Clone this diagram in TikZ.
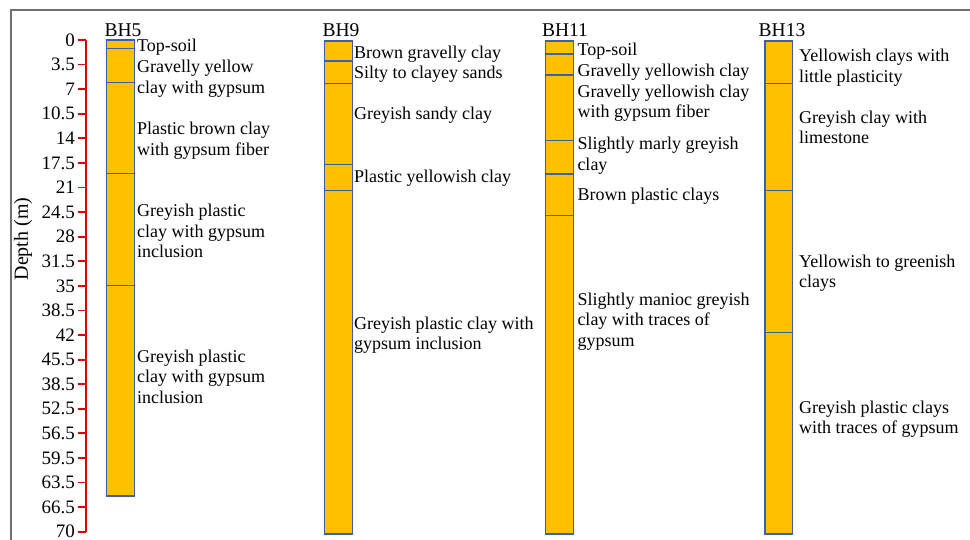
\documentclass[tikz,border=0pt]{standalone}
\usepackage{fontspec}
\setmainfont{Liberation Serif}
\usepackage{tikz}
\usetikzlibrary{positioning}
\definecolor{gold}{RGB}{255,192,0}
\definecolor{edge}{RGB}{59,96,168}
\definecolor{axisred}{RGB}{222,0,0}
\definecolor{framegray}{RGB}{112,112,112}

\begin{document}
\begin{tikzpicture}[x=1pt, y=-1pt,
    layer/.style={draw=edge, fill=gold, line width=1.3pt},
    cut/.style={draw=edge, line width=1.3pt},
    soil/.style={anchor=base west, align=left, inner sep=0pt, font=\fontsize{18}{20.5}\selectfont},
    hole/.style={anchor=base, inner sep=0pt, font=\fontsize{19.5}{22}\selectfont},
    depthlabel/.style={anchor=east, inner sep=0pt, font=\fontsize{19}{22}\selectfont},
    redline/.style={draw=axisred, line width=1.8pt}]
  \useasboundingbox (0,0) rectangle (970,540);
  \draw[framegray, line width=1.5pt] (11,540) -- (11,10) -- (970,10);

  \coordinate (top) at (85.7,40);
  \coordinate (bot) at (85.7,531.7);
  \draw[redline] (top) -- (bot);
  \foreach \d [count=\i from 0] in {0,3.5,7,10.5,14,17.5,21,24.5,28,31.5,35,38.5,42,45.5,38.5,52.5,56.5,59.5,63.5,66.5,70} {
    \pgfmathsetmacro\ty{40+\i*24.585}
    \coordinate (k\i) at (85.7,\ty);
    \draw[redline] (k\i) -- ++(-8,0);
    \node[depthlabel] (t\i) at (75,\ty) {\d};
  }
  \node[anchor=center, rotate=90, font=\fontsize{20}{22}\selectfont] (depth) at (23,239) {Depth (m)};

  \draw[layer] (106.5,40) rectangle (134.3,496);
  \foreach \y in {48.3,82.7,173.3,285.7} \draw[cut] (106.5,\y) -- (134.3,\y);
  \draw[layer] (324.5,41) rectangle (352.5,534);
  \foreach \y in {61,83.3,164.3,190.7} \draw[cut] (324.5,\y) -- (352.5,\y);
  \draw[layer] (545.7,41) rectangle (573.7,534);
  \foreach \y in {54,75,140.7,174,215.7} \draw[cut] (545.7,\y) -- (573.7,\y);
  \draw[layer] (765,41) rectangle (792.3,534);
  \foreach \y in {83.3,190.7,332.3} \draw[cut] (765,\y) -- (792.3,\y);

  \node[hole] (bh5) at (123,37) {BH5};
  \node[hole] (bh9) at (341,37) {BH9};
  \node[hole] (bh11) at (565,37) {BH11};
  \node[hole] (bh13) at (782,37) {BH13};

  \node[soil] (a1) at (137,52) {Top-soil};
  \node[soil] (a2) at (137,93.2) {Gravelly yellow\\clay with gypsum};
  \node[soil] (a3) at (137,155.5) {Plastic brown clay\\with gypsum fiber};
  \node[soil] (a4) at (137,257.7) {Greyish plastic\\clay with gypsum\\inclusion};
  \node[soil] (a5) at (137,403.3) {Greyish plastic\\clay with gypsum\\inclusion};

  \node[soil] (b1) at (354,58.3) {Brown gravelly clay};
  \node[soil] (b2) at (354,79) {Silty to clayey sands};
  \node[soil] (b3) at (354,120) {Greyish sandy clay};
  \node[soil] (b4) at (354,182.7) {Plastic yellowish clay};
  \node[soil] (b5) at (354,349.8) {Greyish plastic clay with\\gypsum inclusion};

  \node[soil] (c1) at (577.3,55.7) {Top-soil};
  \node[soil] (c2) at (577.3,76.7) {Gravelly yellowish clay};
  \node[soil] (c3) at (577.3,117.8) {Gravelly yellowish clay\\with gypsum fiber};
  \node[soil] (c4) at (577.3,170.5) {Slightly marly greyish\\clay};
  \node[soil] (c5) at (577.3,201) {Brown plastic clays};
  \node[soil] (c6) at (577.3,346) {Slightly manioc greyish\\clay with traces of\\gypsum};

  \node[soil] (d1) at (799,82.2) {Yellowish clays with\\little plasticity};
  \node[soil] (d2) at (799,143.8) {Greyish clay with\\limestone};
  \node[soil] (d3) at (799,288) {Yellowish to greenish\\clays};
  \node[soil] (d4) at (799,433.8) {Greyish plastic clays\\with traces of gypsum};
\end{tikzpicture}
\end{document}
